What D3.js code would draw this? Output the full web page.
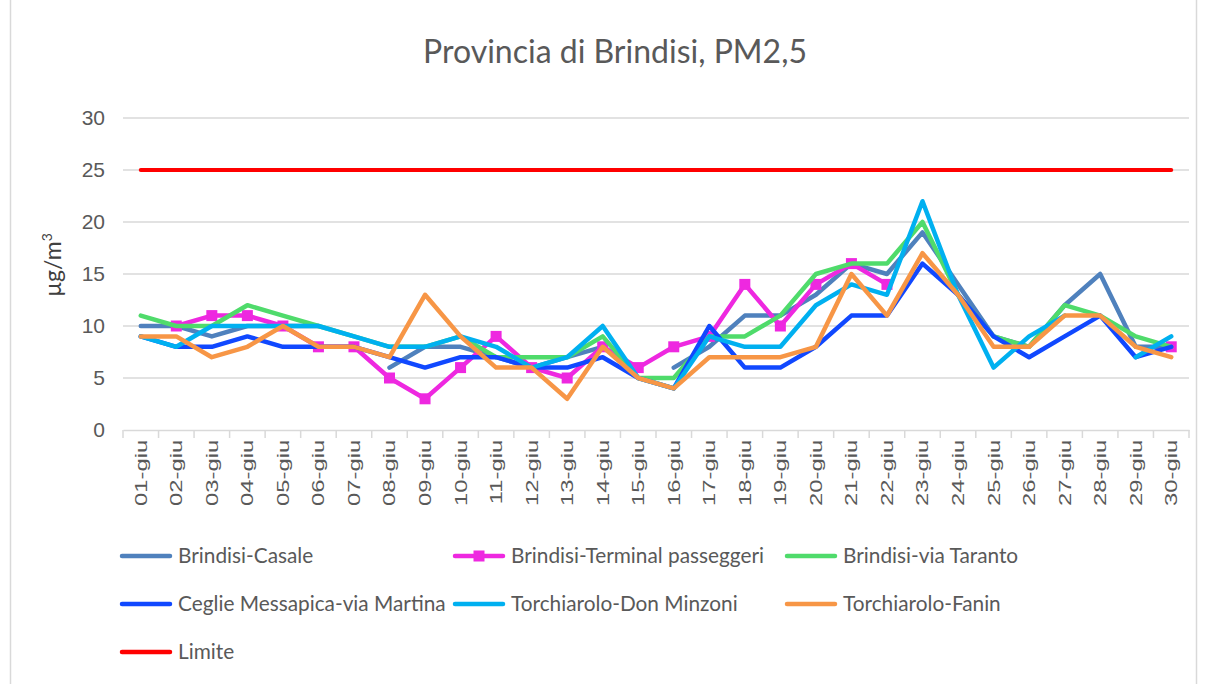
<!DOCTYPE html>
<html>
<head>
<meta charset="utf-8">
<title>Provincia di Brindisi, PM2,5</title>
<script src="https://cdn.jsdelivr.net/npm/d3@7"></script>
<style>
    body { margin: 0; background: #ffffff; }
    svg { display: block; font-family: Lato, 'Open Sans', sans-serif; }
</style>
</head>
<body>
<svg width="1205" height="684" id="mainsvg"></svg>
<script>
    // data
    const days = ['01-giu','02-giu','03-giu','04-giu','05-giu','06-giu','07-giu','08-giu','09-giu','10-giu',
                  '11-giu','12-giu','13-giu','14-giu','15-giu','16-giu','17-giu','18-giu','19-giu','20-giu',
                  '21-giu','22-giu','23-giu','24-giu','25-giu','26-giu','27-giu','28-giu','29-giu','30-giu'];
    const yTicks = [0, 5, 10, 15, 20, 25, 30];
    const seriesNames = ['Brindisi-Casale', 'Brindisi-Terminal passeggeri', 'Brindisi-via Taranto',
                         'Ceglie Messapica-via Martina', 'Torchiarolo-Don Minzoni', 'Torchiarolo-Fanin', 'Limite'];

    const casale     = [10,10,9,10,10,10,null,6,8,8,7,6,7,8,null,6,8,11,11,13,16,15,19,14,9,8,12,15,8,8];
    const terminal   = [null,10,11,11,10,8,8,5,3,6,9,6,5,8,6,8,9,14,10,14,16,14,null,null,null,null,null,null,null,8];
    const taranto    = [11,10,10,12,11,10,9,8,8,9,7,7,7,9,5,5,9,9,11,15,16,16,20,13,9,8,12,11,9,8];
    const ceglie     = [9,8,8,9,8,8,8,7,6,7,7,6,6,7,5,4,10,6,6,8,11,11,16,13,9,7,9,11,7,8];
    const donMinzoni = [9,8,10,10,10,10,9,8,8,9,8,6,7,10,5,4,9,8,8,12,14,13,22,13,6,9,11,null,7,9];
    const fanin      = [9,9,7,8,10,8,8,7,13,9,6,6,3,8,5,4,7,7,7,8,15,11,17,13,8,8,11,11,8,7];
    const limite     = [25,25,25,25,25,25,25,25,25,25,25,25,25,25,25,25,25,25,25,25,25,25,25,25,25,25,25,25,25,25];

    const colors = ['#4f81bd', '#ee28e0', '#4fdb6b', '#1048ff', '#00b0f0', '#f79646', '#ff0000'];
    const markers = [false, true, false, false, false, false, false];

    const series = [casale, terminal, taranto, ceglie, donMinzoni, fanin, limite].map((vals, i) => ({
        name: seriesNames[i], values: vals, color: colors[i], marker: markers[i]
    }));

    const svg = d3.select('#mainsvg');
    const plot = {left: 123, right: 1189, top: 118, bottom: 430};
    const textColor = '#595959';
    const gridColor = '#d9d9d9';

    // chart frame (left / right edges only show)
    svg.append('line').attr('x1', 10.5).attr('x2', 10.5).attr('y1', 0).attr('y2', 684)
        .attr('stroke', gridColor).attr('stroke-width', 1.5);
    svg.append('line').attr('x1', 1196.5).attr('x2', 1196.5).attr('y1', 0).attr('y2', 684)
        .attr('stroke', gridColor).attr('stroke-width', 1.5);

    const xScale = d3.scaleBand().domain(days).range([plot.left, plot.right]);
    const yScale = d3.scaleLinear().domain([0, 30]).range([plot.bottom, plot.top]);
    const xc = d => xScale(d) + xScale.bandwidth() / 2;

    // title
    svg.append('text')
        .attr('x', 615).attr('y', 63)
        .attr('text-anchor', 'middle')
        .attr('font-size', 32)
        .attr('fill', textColor)
        .text('Provincia di Brindisi, PM2,5');

    // gridlines
    svg.append('g').selectAll('line')
        .data(yTicks.filter(t => t > 0)).join('line')
        .attr('x1', plot.left).attr('x2', plot.right)
        .attr('y1', d => yScale(d)).attr('y2', d => yScale(d))
        .attr('stroke', gridColor).attr('stroke-width', 1.5);

    // y axis labels
    const yAxis = d3.axisLeft(yScale).tickValues(yTicks).tickSize(0).tickPadding(18);
    const yg = svg.append('g').attr('transform', `translate(${plot.left},0)`).call(yAxis);
    yg.select('.domain').remove();
    yg.selectAll('text').attr('font-size', 21).attr('fill', textColor).attr('font-family', null);

    // y axis title
    const yTitle = svg.append('text')
        .attr('transform', 'translate(61,265) rotate(-90)')
        .attr('text-anchor', 'middle')
        .attr('font-size', 23)
        .attr('fill', '#404040');
    yTitle.append('tspan').text('µg/m');
    yTitle.append('tspan').attr('font-size', 14).attr('dy', -9).text('3');

    // x axis
    const xAxis = d3.axisBottom(xScale).tickSize(0);
    const xg = svg.append('g').attr('transform', `translate(0,${plot.bottom})`).call(xAxis);
    xg.select('.domain').attr('stroke', gridColor).attr('stroke-width', 1.5);
    xg.selectAll('text')
        .attr('font-family', null)
        .attr('font-size', 17)
        .attr('fill', textColor)
        .attr('text-anchor', 'end')
        .attr('transform', 'rotate(-90) scale(1.4,1)')
        .attr('x', -7).attr('y', 0).attr('dy', '0.35em');
    // tick marks sit on the category boundaries
    xg.append('g').selectAll('line')
        .data(days.map(d => xScale(d)).concat([plot.right])).join('line')
        .attr('x1', d => d).attr('x2', d => d)
        .attr('y1', 0).attr('y2', 8)
        .attr('stroke', gridColor).attr('stroke-width', 1.5);

    // lines
    const line = d3.line()
        .defined(d => d.v != null)
        .x(d => xc(d.day))
        .y(d => yScale(d.v));

    series.forEach(s => {
        const pts = s.values.map((v, i) => ({day: days[i], v: v}));
        const g = svg.append('g');
        g.append('path')
            .datum(pts)
            .attr('fill', 'none')
            .attr('stroke', s.color)
            .attr('stroke-width', s.name === 'Limite' ? 4 : 4.5)
            .attr('stroke-linejoin', 'round')
            .attr('stroke-linecap', 'round')
            .attr('d', line);
        if (s.marker) {
            g.selectAll('rect')
                .data(pts.filter(d => d.v != null)).join('rect')
                .attr('x', d => xc(d.day) - 5.5)
                .attr('y', d => yScale(d.v) - 5.5)
                .attr('width', 11).attr('height', 11)
                .attr('fill', s.color);
        }
    });

    // legend
    const legCols = [122, 455, 787];
    const legRows = [556, 604, 652];
    const legend = svg.append('g').selectAll('g')
        .data(series).join('g')
        .attr('transform', (d, i) => `translate(${legCols[i % 3]},${legRows[Math.floor(i / 3)]})`);
    legend.append('line')
        .attr('x1', 0).attr('x2', 48).attr('y1', 0).attr('y2', 0)
        .attr('stroke', d => d.color).attr('stroke-width', 4.5).attr('stroke-linecap', 'round');
    legend.filter(d => d.marker).append('rect')
        .attr('x', 24 - 5.5).attr('y', -5.5).attr('width', 11).attr('height', 11)
        .attr('fill', d => d.color);
    legend.append('text')
        .attr('x', 56).attr('y', 0).attr('dy', '0.35em')
        .attr('font-size', 20.8)
        .attr('fill', textColor)
        .text(d => d.name);
</script>
</body>
</html>
